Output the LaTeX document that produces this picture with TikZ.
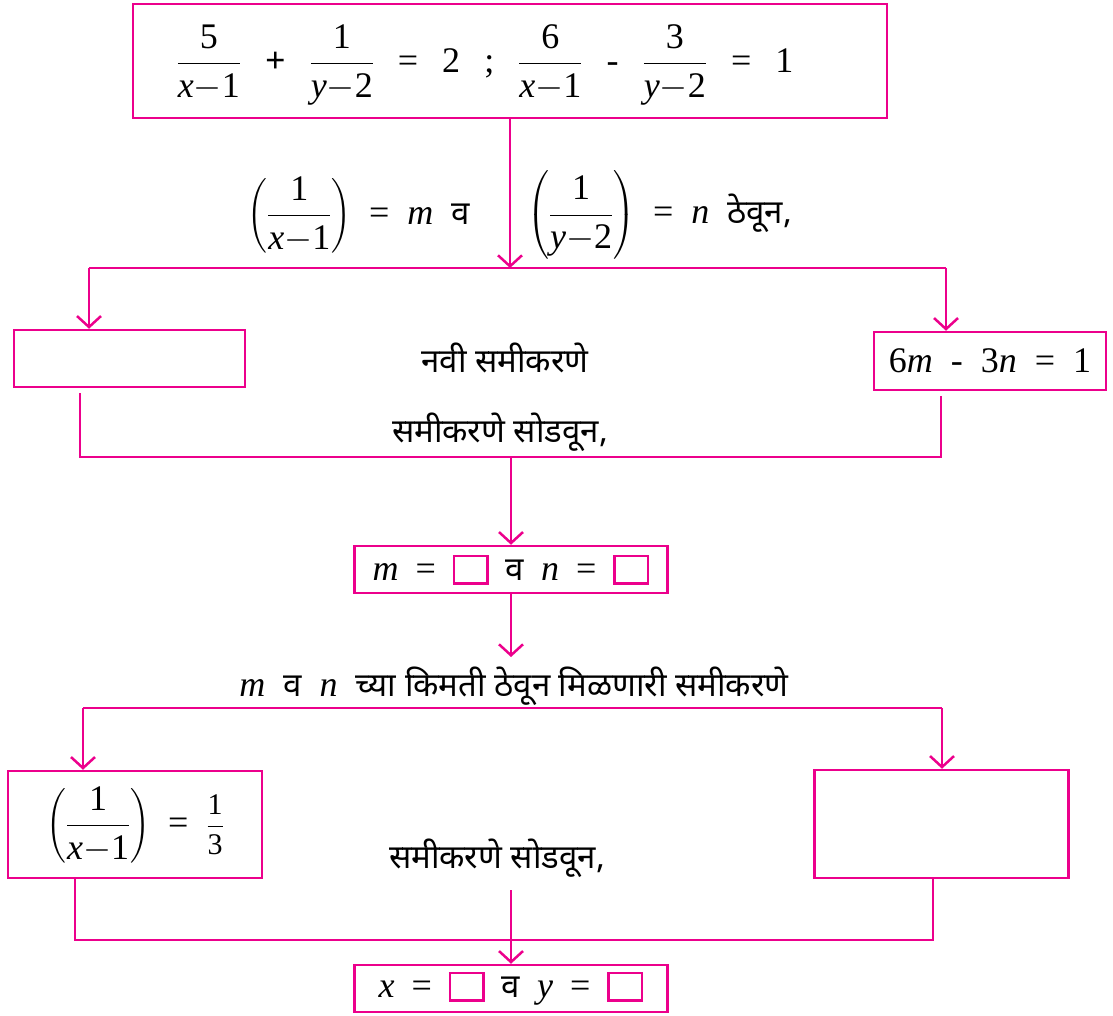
\RequirePackage{fix-cm}
\documentclass[tikz,border=0pt]{standalone}
\usepackage{amsmath}
\usepackage{fontspec}
\setmainfont{Liberation Serif}
\newfontfamily\devfont[Script=Devanagari]{Noto Sans}
\usetikzlibrary{arrows.meta}
\definecolor{pk}{RGB}{236,0,140}
\newcommand\dv[1]{{\devfont\fontsize{33}{40}\selectfont #1}}
\newcommand\fr[2]{\ensuremath{\dfrac{\mbox{#1}}{\mbox{#2}}}}
\newcommand\pfr[2]{\ensuremath{\left(\dfrac{\mbox{#1}}{\mbox{#2}}\right)}}
\newcommand\xm{\textit{x}$-$1}
\newcommand\ym{\textit{y}$-$2}
\newcommand\gp{\hspace{24pt}}
\newcommand\gq{\hspace{17pt}}
\newcommand\sqbox{\raisebox{-2pt}{\color{pk}\setlength{\fboxrule}{2.5pt}\setlength{\fboxsep}{0pt}\framebox{\rule{0pt}{25pt}\rule{31pt}{0pt}}}}
\tikzset{
  box/.style={draw=pk, line width=2.5pt, inner sep=0pt, align=center},
  conn/.style={draw=pk, line width=2.5pt},
  arr/.style={conn, -{Straight Barb[length=11pt,width=24pt,line width=2.5pt]}},
  txt/.style={inner sep=0pt, font=\fontsize{36}{43}\selectfont}
}
\begin{document}
\begin{tikzpicture}[x=1pt,y=-1pt]
\useasboundingbox (0,0) rectangle (1113,1016);
% boxes
\node[box, minimum width=754pt, minimum height=114pt] (top) at (510,61) {};
\node[txt] (eq) at (485,65)
  {\fr{5}{\xm}\gp\textbf{+}\gp\fr{1}{\ym}\gp=\gp2\gp;\gp\fr{6}{\xm}\gp-\gp\fr{3}{\ym}\gp=\gp1};
\node[box, minimum width=231pt, minimum height=57pt] (b1) at (129.5,358.5) {};
\node[box, minimum width=232pt, minimum height=58pt, txt] (b2) at (990,361) {6\textit{m}\ \ -\ \ 3\textit{n}\ \ =\ \ 1};
\node[box, minimum width=313pt, minimum height=47pt, txt] (mn) at (511,569.5)
  {\textit{m}\gq=\gq\sqbox\gq\dv{व}\gq\textit{n}\gq=\gq\sqbox};
\node[box, minimum width=254pt, minimum height=107pt, txt] (b3) at (135,824.5)
  {\pfr{1}{\xm}\ \ =\ \ {\fontsize{30}{36}\selectfont\fr{1}{3}}};
\node[box, minimum width=254pt, minimum height=108pt] (b4) at (941.5,824) {};
\node[box, minimum width=313pt, minimum height=47pt, txt] (xy) at (511,988.5)
  {\textit{x}\gq=\gq\sqbox\gq\dv{व}\gq\textit{y}\gq=\gq\sqbox};
% labels
\node[txt, anchor=east] (l1) at (470,215) {\pfr{1}{\xm}\ \ =\ \ \textit{m}\ \ \dv{व}};
\node[txt, anchor=west] (l2) at (527,215) {\pfr{1}{\ym}\ \ =\ \ \textit{n}\ \ \dv{ठेवून,}};
\node[txt] (l3) at (505,358) {\dv{नवी समीकरणे}};
\node[txt] (l4) at (500,432) {\dv{समीकरणे सोडवून,}};
\node[txt] (l5) at (514,686) {\textit{m}\ \ \dv{व}\ \ \textit{n}\ \ \dv{च्या किमती ठेवून मिळणारी समीकरणे}};
\node[txt] (l6) at (497,858) {\dv{समीकरणे सोडवून,}};
% junction coordinates
\coordinate (j1) at (510,268);
\coordinate (L1) at (89,268);
\coordinate (R1) at (946,268);
\coordinate (L2) at (80,457);
\coordinate (R2) at (941,457);
\coordinate (j2) at (511,457);
\coordinate (j3) at (511,657);
\coordinate (L3) at (83,708);
\coordinate (R3) at (942,708);
\coordinate (L4) at (75,940);
\coordinate (R4) at (933,940);
\coordinate (j5) at (511,890);
% connectors
\draw[arr] (top.south) -- (j1);
\draw[conn] (L1) -- (R1);
\draw[arr] (L1) -- (L1 |- b1.north);
\draw[arr] (R1) -- (R1 |- b2.north);
\draw[conn] ([yshift=-5pt]L2 |- b1.south) -- (L2) -- (R2) -- ([yshift=-5pt]R2 |- b2.south);
\draw[arr] (j2) -- (j2 |- mn.north);
\draw[arr] (mn.south) -- (j3);
\draw[conn] (L3) -- (R3);
\draw[arr] (L3) -- (L3 |- b3.north);
\draw[arr] (R3) -- (R3 |- b4.north);
\draw[conn] (L4 |- b3.south) -- (L4) -- (R4) -- (R4 |- b4.south);
\draw[arr] (j5) -- (j5 |- xy.north);
\end{tikzpicture}
\end{document}
